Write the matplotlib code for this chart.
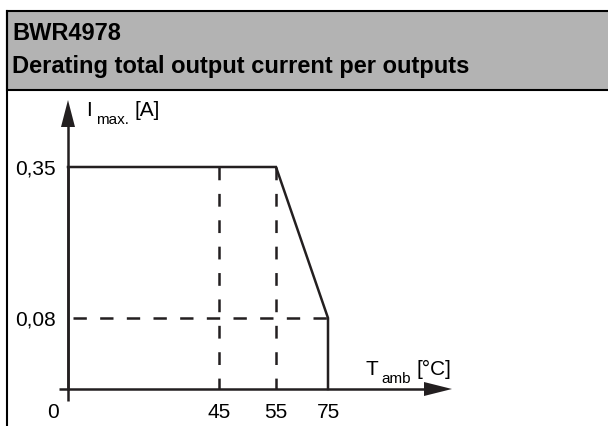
import numpy as np
import matplotlib.pyplot as plt
from matplotlib.patches import Rectangle, Polygon

plt.rcParams['font.family'] = ['Liberation Sans', 'DejaVu Sans']
plt.rcParams['lines.scale_dashes'] = False

# Data
title = "BWR4978"
subtitle = "Derating total output current per outputs"
temp = [0, 55, 75, 75]            # T_amb [°C]
current = [0.35, 0.35, 0.08, 0.0]  # I max. [A]
x_ticks = [45, 55, 75]
x_tick_labels = ["45", "55", "75"]
y_ticks = [0.08, 0.35]
y_tick_labels = ["0,08", "0,35"]
dash_x = [45, 55]
dash_y = [0.08]

# the datasheet drawing is schematic: axis spacing is not linear
x_knots = [0, 45, 55, 75]
x_px = [0, 151, 208, 260]
y_knots = [0, 0.08, 0.35]
y_px = [0, 71, 222]

W, H = 608, 426
ink = '#231f20'
lw = 1.8

fig = plt.figure(figsize=(W / 100, H / 100), dpi=100)

# background axes in pixel coordinates for the frame, header and arrows
bg = fig.add_axes([0, 0, 1, 1])
bg.set_xlim(0, W)
bg.set_ylim(H, 0)
bg.axis('off')

bg.add_patch(Rectangle((7, 11), W, 79, facecolor='#b3b3b3', edgecolor='black', lw=1.5))
bg.plot([7, 7], [11, H], color='black', lw=1.5)
bg.text(12, 40, title, fontsize=17, fontweight='bold', va='baseline')
bg.text(12, 73, subtitle, fontsize=17, fontweight='bold', va='baseline')

# axes lines with arrow heads
ox, oy = 68, 389
bg.plot([ox, ox], [401, 118], color=ink, lw=lw, solid_capstyle='butt')
bg.add_patch(Polygon([(ox, 100), (ox - 7, 127), (ox + 7, 127)], closed=True, color=ink, lw=0))
bg.plot([59, 430], [oy, oy], color=ink, lw=lw, solid_capstyle='butt')
bg.add_patch(Polygon([(452, oy), (424, oy - 7), (424, oy + 7)], closed=True, color=ink, lw=0))

# axis titles
bg.text(86, 116, "I", fontsize=15, va='baseline')
bg.text(96, 124, "max.", fontsize=11, va='baseline')
bg.text(134, 116, "[A]", fontsize=15, va='baseline')
bg.text(366, 375, "T", fontsize=15, va='baseline')
bg.text(381, 383, "amb", fontsize=11, va='baseline')
bg.text(417, 375, "[°C]", fontsize=15, va='baseline')
bg.text(53, 412, "0", fontsize=15, ha='center', va='center')

# data axes
ax = fig.add_axes([ox / W, (H - oy) / H, 260 / W, 222 / H])
ax.patch.set_alpha(0)
ax.set_xscale('function', functions=(lambda v: np.interp(v, x_knots, x_px),
                                     lambda p: np.interp(p, x_px, x_knots)))
ax.set_yscale('function', functions=(lambda v: np.interp(v, y_knots, y_px),
                                     lambda p: np.interp(p, y_px, y_knots)))
ax.set_xlim(0, 75)
ax.set_ylim(0, 0.35)
for s in ax.spines.values():
    s.set_visible(False)

for xv in dash_x:
    ax.plot([xv, xv], [0.35, 0], color=ink, lw=lw, linestyle=(0, (9.2, 9.8)), clip_on=False)
for yv in dash_y:
    ax.plot([0, 75], [yv, yv], color=ink, lw=lw, linestyle=(15.6, (9.6, 9.6)), clip_on=False)

ax.plot(temp, current, color=ink, lw=lw, clip_on=False, solid_joinstyle='miter')
ax.plot([0, 0], [0, 0.35], color=ink, lw=lw, clip_on=False)

ax.set_xticks(x_ticks)
ax.set_xticklabels(x_tick_labels, fontsize=15)
ax.set_yticks(y_ticks)
ax.set_yticklabels(y_tick_labels, fontsize=15)
ax.tick_params(length=0)
ax.tick_params(axis='x', pad=10)
ax.tick_params(axis='y', pad=9)

fig.savefig('out.png', dpi=100)
